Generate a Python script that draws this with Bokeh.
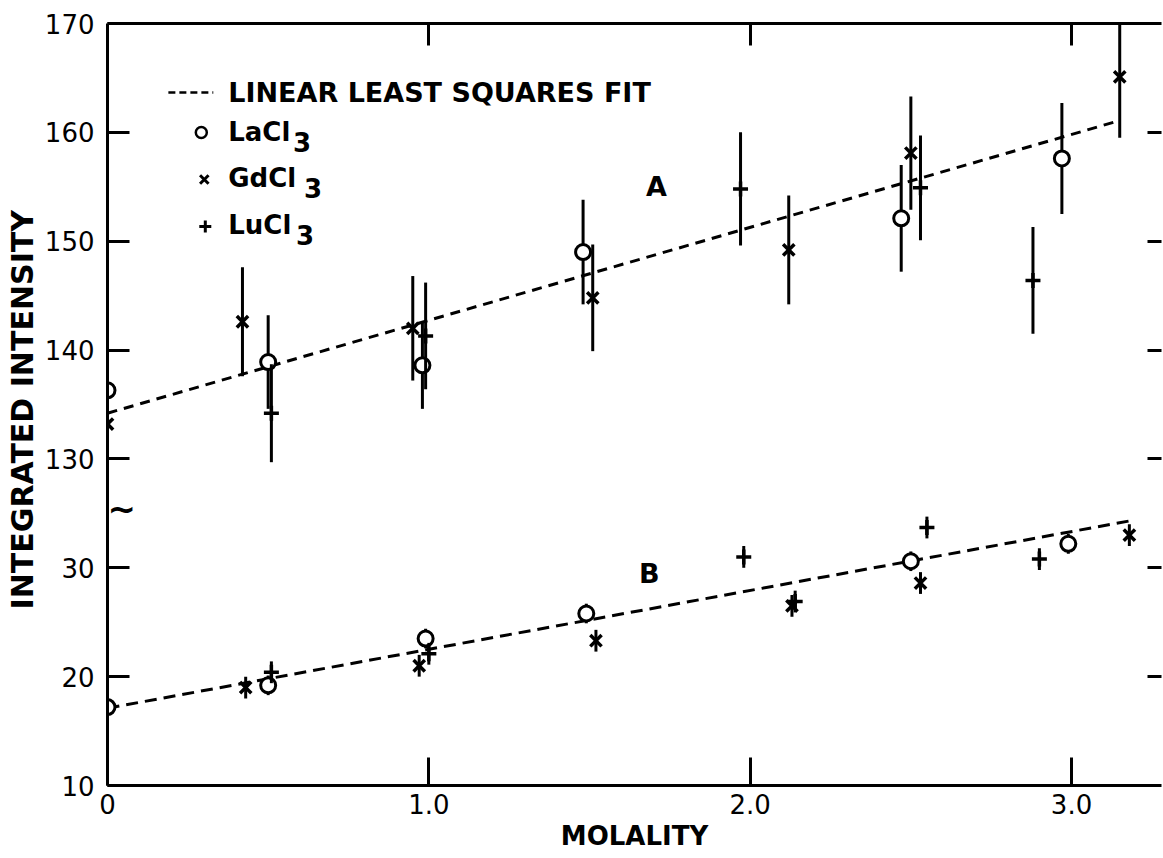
from bokeh.plotting import figure
from bokeh.models import Range1d, LinearAxis, FixedTicker, Label, ColumnDataSource
from bokeh.embed import file_html
from bokeh.resources import INLINE

# ---------------- data ----------------
# Curve A (upper panel, integrated intensity ~130-170)
la_a_x = [0.0, 0.50, 0.98, 1.48, 2.47, 2.97]
la_a_y = [136.3, 138.9, 138.6, 149.0, 152.1, 157.6]
la_a_e = [5.0, 4.3, 4.0, 4.8, 4.9, 5.1]

gd_a_x = [0.0, 0.42, 0.95, 1.51, 2.12, 2.50, 3.15]
gd_a_y = [133.2, 142.6, 142.0, 144.8, 149.2, 158.1, 165.1]
gd_a_e = [4.0, 5.0, 4.8, 4.9, 5.0, 5.2, 5.6]

lu_a_x = [0.51, 0.99, 1.97, 2.53, 2.88]
lu_a_y = [134.2, 141.3, 154.8, 154.9, 146.4]
lu_a_e = [4.5, 4.9, 5.2, 4.8, 4.9]

fit_a_x = [0.0, 3.14]
fit_a_y = [134.2, 161.0]

# Curve B (lower panel, integrated intensity ~10-35)
la_b_x = [0.0, 0.50, 0.99, 1.49, 2.50, 2.99]
la_b_y = [17.2, 19.2, 23.5, 25.8, 30.6, 32.2]
la_b_e = [0.9, 0.9, 0.9, 0.9, 0.9, 0.9]

gd_b_x = [0.43, 0.97, 1.52, 2.13, 2.53, 3.18]
gd_b_y = [19.0, 21.0, 23.3, 26.5, 28.6, 33.0]
gd_b_e = [1.0, 1.0, 1.0, 1.0, 1.0, 1.0]

lu_b_x = [0.51, 1.00, 1.98, 2.14, 2.55, 2.90]
lu_b_y = [20.4, 22.1, 31.0, 26.9, 33.7, 30.8]
lu_b_e = [1.0, 1.0, 1.0, 1.0, 1.0, 1.0]

fit_b_x = [0.0, 3.18]
fit_b_y = [17.1, 34.3]

# axis ticks
x_ticks = [0, 1, 2, 3]
x_tick_labels = ["0", "1.0", "2.0", "3.0"]
y_ticks_lower = [10, 20, 30]
y_ticks_upper = [130, 140, 150, 160, 170]

# broken axis: the upper panel is shifted down by this amount
BREAK_OFFSET = 90
BREAK_AT = 35.4  # plotted position of the axis break

FONT = "DejaVu Sans"


def src(xs, ys, es, offset=0):
    yy = [v - offset for v in ys]
    return ColumnDataSource(dict(
        x=xs, y=yy,
        lo=[v - e for v, e in zip(yy, es)],
        hi=[v + e for v, e in zip(yy, es)],
    ))


# ---------------- figure ----------------
p = figure(width=1163, height=858,
           x_range=Range1d(0, 3.28), y_range=Range1d(10, 80),
           output_backend="svg", toolbar_location=None,
           min_border_left=107, min_border_top=23,
           min_border_bottom=73, min_border_right=2)
p.grid.visible = False
p.outline_line_color = None
p.background_fill_color = "white"


def style_axis(ax, tick_in):
    ax.major_tick_in = tick_in
    ax.major_tick_out = 0
    ax.minor_tick_in = 0
    ax.minor_tick_out = 0
    ax.axis_line_width = 3
    ax.major_tick_line_width = 3
    ax.axis_line_color = "black"
    ax.major_tick_line_color = "black"
    ax.major_label_text_font = FONT
    ax.major_label_text_font_size = "26px"
    ax.major_label_text_color = "black"
    ax.axis_label_text_font = FONT
    ax.axis_label_text_font_style = "bold"
    ax.axis_label_text_color = "black"


# left axis
ly = p.yaxis[0]
y_all = y_ticks_lower + [t - BREAK_OFFSET for t in y_ticks_upper]
ly.ticker = FixedTicker(ticks=y_all)
ly.major_label_overrides = {t: str(t) for t in y_ticks_lower}
ly.major_label_overrides.update({t - BREAK_OFFSET: str(t) for t in y_ticks_upper})
style_axis(ly, 22)
ly.major_label_standoff = 13
ly.axis_label = "INTEGRATED  INTENSITY"
ly.axis_label_text_font_size = "30px"
ly.axis_label_standoff = 2

# bottom axis
bx = p.xaxis[0]
bx.ticker = FixedTicker(ticks=x_ticks)
bx.major_label_overrides = dict(zip(x_ticks, x_tick_labels))
style_axis(bx, 28)
bx.major_label_standoff = 8
bx.axis_label = "MOLALITY"
bx.axis_label_text_font_size = "26px"
bx.axis_label_standoff = 4

# top axis (ticks only)
tx = LinearAxis(ticker=FixedTicker(ticks=x_ticks[1:]))
style_axis(tx, 22)
tx.major_label_overrides = {t: "" for t in x_ticks}
tx.major_label_text_font_size = "1px"
tx.major_label_standoff = 0
p.add_layout(tx, "above")

# right axis (ticks only, line off the page)
ry = LinearAxis(ticker=FixedTicker(ticks=y_all[1:-1]))
style_axis(ry, 14)
ry.axis_line_color = None
ry.major_label_overrides = {t: "" for t in y_all}
ry.major_label_text_font_size = "1px"
ry.major_label_standoff = 0
p.add_layout(ry, "right")

# ---------------- fits ----------------
p.line(fit_a_x, [v - BREAK_OFFSET for v in fit_a_y], line_color="black",
       line_width=3, line_dash="10 7")
p.line(fit_b_x, fit_b_y, line_color="black", line_width=3, line_dash="12 7")

# ---------------- data points ----------------
sets = [
    (la_a_x, la_a_y, la_a_e, BREAK_OFFSET, "circle"),
    (gd_a_x, gd_a_y, gd_a_e, BREAK_OFFSET, "x"),
    (lu_a_x, lu_a_y, lu_a_e, BREAK_OFFSET, "cross"),
    (la_b_x, la_b_y, la_b_e, 0, "circle"),
    (gd_b_x, gd_b_y, gd_b_e, 0, "x"),
    (lu_b_x, lu_b_y, lu_b_e, 0, "cross"),
]
for xs, ys, es, off, mk in sets:
    s = src(xs, ys, es, off)
    p.segment(x0="x", y0="lo", x1="x", y1="hi", source=s,
              line_color="black", line_width=3)
    if mk == "circle":
        p.scatter("x", "y", source=s, marker="circle", size=15,
                  fill_color="white", line_color="black", line_width=3)
    elif mk == "x":
        p.scatter("x", "y", source=s, marker="x", size=16,
                  line_color="black", line_width=3.5)
    else:
        p.scatter("x", "y", source=s, marker="cross", size=15,
                  line_color="black", line_width=3.5)


# ---------------- legend & labels (positions from pixels) ----------------
def sx(px):
    return (px - 107) / 322.0


def sy(py):
    return 10 + (785 - py) / 10.886


p.line([sx(168), sx(213)], [sy(92), sy(92)], line_color="black",
       line_width=2.5, line_dash="7 4")


def lab(text, px, py, size="26px", align="left", baseline="middle", style="bold"):
    p.add_layout(Label(x=sx(px), y=sy(py), text=text, text_font=FONT,
                       text_font_size=size, text_color="black",
                       text_font_style=style,
                       text_align=align, text_baseline=baseline))


lab("LINEAR LEAST SQUARES FIT", 228, 92, size="27px")
lab("LaCl", 228, 131)
lab("3", 293, 141)
lab("GdCl", 228, 177)
lab("3", 304, 187)
lab("LuCl", 228, 224)
lab("3", 296, 234)

p.scatter([sx(201)], [sy(132)], marker="circle", size=11, fill_color="white",
          line_color="black", line_width=2.5)
p.scatter([sx(204)], [sy(179)], marker="x", size=12, line_color="black",
          line_width=3)
p.scatter([sx(205)], [sy(226)], marker="cross", size=12, line_color="black",
          line_width=3)

lab("A", 657, 186, size="27px", align="center")
lab("B", 650, 573, size="27px", align="center")

# axis break squiggle (drawn just inside the frame)
p.add_layout(Label(x=0, y=BREAK_AT, text="~", text_font=FONT,
                   text_font_size="34px", text_font_style="bold",
                   text_align="left", text_baseline="middle",
                   text_color="black"))

open("out.html", "w").write(file_html(p, INLINE))
